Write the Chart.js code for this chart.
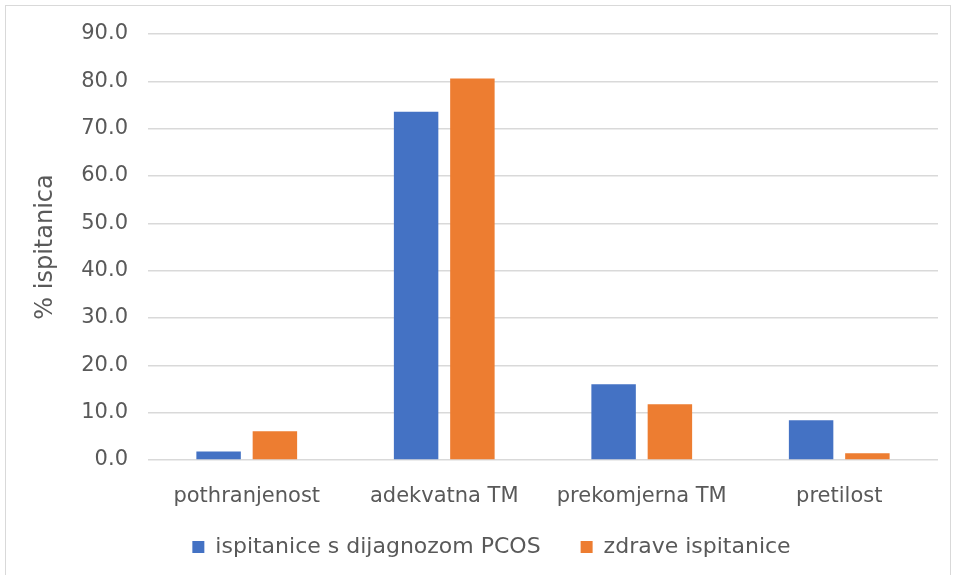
<!DOCTYPE html>
<html>
<head>
<meta charset="utf-8">
<script src="https://cdn.jsdelivr.net/npm/chart.js@4"></script>
<style>
  html, body { margin: 0; padding: 0; background: #fff; }
  #frame { position: absolute; left: 5px; top: 5px; width: 946px; height: 580px; border: 1px solid #d9d9d9; box-sizing: border-box; }
  #wrap { position: absolute; left: 0; top: 0; width: 954px; height: 575px; }
</style>
</head>
<body>
<div id="frame"></div>
<div id="wrap"><canvas id="bmiChart"></canvas></div>
<script>
var categories = ["pothranjenost", "adekvatna TM", "prekomjerna TM", "pretilost"];
var seriesNames = ["ispitanice s dijagnozom PCOS", "zdrave ispitanice"];
var pcosValues = [1.8, 73.6, 16.0, 8.4];
var healthyValues = [6.1, 80.6, 11.8, 1.4];
var yTicks = [0, 10, 20, 30, 40, 50, 60, 70, 80, 90];

// x labels sit lower than the axis box, so don't clip them
var noLabelClip = {
    id: 'noLabelClip',
    beforeDraw: function (chart) {
        chart.scales.x._computeLabelArea = function () { return undefined; };
    }
};

document.addEventListener("DOMContentLoaded", function () {
    var ctx = document.getElementById("bmiChart").getContext("2d");
    Chart.defaults.font.family = "'DejaVu Sans', Verdana, sans-serif";
    Chart.defaults.color = "#595959";

    new Chart(ctx, {
        type: 'bar',
        data: {
            labels: categories,
            datasets: [{
                label: seriesNames[0],
                data: pcosValues,
                backgroundColor: '#4472C4',
                barPercentage: 0.79,
                categoryPercentage: 0.57
            }, {
                label: seriesNames[1],
                data: healthyValues,
                backgroundColor: '#ED7D31',
                barPercentage: 0.79,
                categoryPercentage: 0.57
            }]
        },
        plugins: [noLabelClip],
        options: {
            responsive: true,
            maintainAspectRatio: false,
            animation: false,
            layout: { padding: { top: 34, right: 16, left: 45, bottom: 7 } },
            plugins: {
                tooltip: { enabled: false },
                legend: {
                    position: 'bottom',
                    labels: {
                        boxWidth: 12,
                        boxHeight: 12,
                        padding: 40,
                        font: { size: 22 },
                        color: '#595959'
                    }
                }
            },
            scales: {
                x: {
                    grid: { display: false },
                    border: { display: false },
                    ticks: { font: { size: 21 }, padding: 16, color: '#595959' },
                    afterFit: function (scale) { scale.height = 36; }
                },
                y: {
                    min: 0,
                    max: 90,
                    afterBuildTicks: function (scale) {
                        scale.ticks = yTicks.map(function (v) { return { value: v }; });
                    },
                    ticks: {
                        font: { size: 21 },
                        padding: 20,
                        color: '#595959',
                        callback: function (v) { return Number(v).toFixed(1); }
                    },
                    grid: { color: '#d9d9d9', lineWidth: 1.5, drawTicks: false },
                    border: { display: false },
                    title: {
                        display: true,
                        text: '% ispitanica',
                        font: { size: 24 },
                        color: '#595959',
                        padding: { top: -14, bottom: 0 }
                    },
                    afterFit: function (scale) { scale.width = 103; }
                }
            }
        }
    });
});
</script>
</body>
</html>
